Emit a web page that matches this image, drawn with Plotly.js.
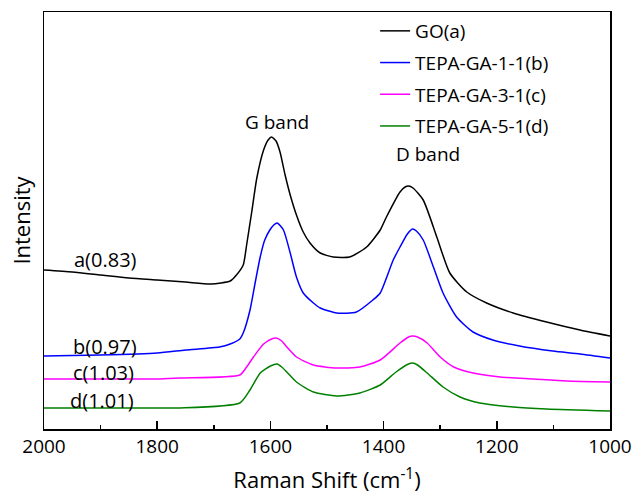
<!DOCTYPE html>
<html>
<head>
<meta charset="utf-8">
<script src="https://cdn.plot.ly/plotly-3.0.1.min.js"></script>
<style>html,body{margin:0;padding:0;background:#fff;}#chart{width:634px;height:494px;}</style>
</head>
<body>
<div id="chart"></div>
<script>
// Raman shift (cm^-1) and intensity (arbitrary units, offset stacked)
var goX = [2000,1950,1900,1850,1800,1750,1705,1671,1660,1648,1642,1633,1624,1612,1604,1598,1590,1583,1574,1565,1554,1542,1530,1512,1489,1460,1430,1406,1395,1371,1362,1356,1348,1330,1306,1283,1253,1218,1171,1112,1053,1000];
var goY = [159,157,154,151,149,147,145,148,154,164,184,217,251,279,289,292,288,277,254,234,214,197,186,176,172,172,182,199,212,237,242,243,241,229,192,156,137,126,116,107,99,93];

var b11X = [2000,1900,1800,1750,1690,1671,1654,1648,1636,1627,1618,1610,1601,1594,1588,1577,1565,1554,1542,1524,1512,1483,1448,1419,1406,1383,1371,1358,1349,1342,1330,1312,1295,1271,1242,1207,1160,1101,1053,1000];
var b11Y = [73,74,76,79,82,85,90,96,119,146,172,189,199,204,206,199,176,152,136,126,121,116,117,129,136,169,182,195,200,198,189,162,136,112,97,89,83,78,75,71];

var c31X = [2000,1900,1800,1760,1654,1642,1630,1612,1598,1590,1580,1571,1554,1524,1483,1442,1406,1371,1356,1349,1340,1323,1300,1276,1242,1194,1135,1077,1000];
var c31Y = [50,50,50,51,54,62,72,85,90,91,88,82,72,64,61,62,69,86,92,93,92,86,72,62,56,52,50,48,47];

var d51X = [2000,1900,1800,1760,1654,1636,1618,1600,1588,1580,1571,1554,1524,1483,1442,1406,1378,1356,1349,1340,1323,1295,1265,1230,1171,1112,1000];
var d51Y = [21,21,21,21,26,39,56,63,65,62,57,47,37,33,36,44,57,65,66,64,56,42,32,26,22,20,18];

var seriesNames = ["GO(a)","TEPA-GA-1-1(b)","TEPA-GA-3-1(c)","TEPA-GA-5-1(d)"];
var seriesColors = ["#000000","#0000ff","#ff00ff","#008000"];

var labelText = ["G band","D band","a(0.83)","b(0.97)","c(1.03)","d(1.01)"];
var labelX = [1589,1322,1891,1893,1895,1898];
var labelY = [307,275,170,83,57,29];

var xs=[goX,b11X,c31X,d51X], ys=[goY,b11Y,c31Y,d51Y];
var traces = xs.map(function(x,i){
  return {x:x,y:ys[i],type:'scatter',mode:'lines',name:seriesNames[i],
    legendgroup:'g'+i,
    line:{color:seriesColors[i],width:1.5,shape:'spline',smoothing:0.6}};
});

var FONT = "Open Sans, sans-serif";
var annotations = labelText.map(function(t,i){
  return {x:labelX[i],y:labelY[i],xref:'x',yref:'y',text:t,showarrow:false,
    font:{family:FONT,size:i<2?19:20,color:'#000'}};
});

var layout = {
  width:634,height:494,
  margin:{l:44,r:24,t:12,b:65},
  paper_bgcolor:'#fff',plot_bgcolor:'#fff',
  font:{family:FONT,color:'#000'},
  showlegend:true,
  legend:{x:0.585,xanchor:'left',y:1.0,yanchor:'top',bgcolor:'rgba(0,0,0,0)',
    borderwidth:0,traceorder:'grouped',tracegroupgap:4,font:{family:FONT,size:19,color:'#000'}},
  xaxis:{range:[2000,1000],dtick:200,tick0:1000,ticks:'inside',ticklen:8,tickwidth:1.5,tickcolor:'#000',
    minor:{dtick:100,ticks:'inside',ticklen:4,tickwidth:1.5,tickcolor:'#000'},
    showline:true,mirror:true,linewidth:1.5,linecolor:'#000',showgrid:false,zeroline:false,
    tickfont:{family:FONT,size:19,color:'#000'},
    title:{text:'Raman Shift (cm<sup>-1</sup>)',font:{family:FONT,size:22,color:'#000'},standoff:14}},
  yaxis:{range:[0,417],showticklabels:false,ticks:'',showline:true,mirror:true,linewidth:1.5,linecolor:'#000',
    showgrid:false,zeroline:false,
    title:{text:'Intensity',font:{family:FONT,size:22,color:'#000'},standoff:6}},
  annotations:annotations
};
Plotly.newPlot('chart',traces,layout,{displayModeBar:false,staticPlot:true});
</script>
</body>
</html>
